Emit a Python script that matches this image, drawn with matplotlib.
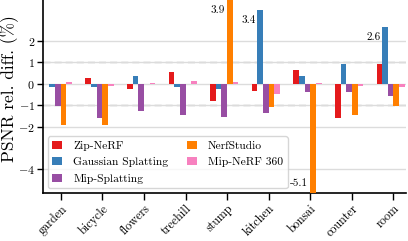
import matplotlib
matplotlib.use("Agg")
import matplotlib.pyplot as plt
import numpy as np

plt.rcParams["font.family"] = "cmr10"
plt.rcParams["mathtext.fontset"] = "cm"
plt.rcParams["axes.formatter.use_mathtext"] = True

scenes = ["garden", "bicycle", "flowers", "treehill", "stump",
          "kitchen", "bonsai", "counter", "room"]
methods = ["Zip-NeRF", "Gaussian Splatting", "Mip-Splatting",
           "NerfStudio", "Mip-NeRF 360"]
colors = ["#e41a1c", "#377eb8", "#984ea3", "#ff7f00", "#f781bf"]

zip_nerf = [-0.03, 0.27, -0.23, 0.53, -0.79, -0.33, 0.62, -1.62, 0.93]
gauss_splat = [-0.15, -0.15, 0.37, -0.15, -0.25, 3.42, 0.37, 0.93, 2.62]
mip_splat = [-1.03, -1.62, -1.29, -1.48, -1.54, -1.37, -0.39, -0.39, -0.59]
nerfstudio = [-1.92, -1.95, 0.0, 0.0, 3.9, -1.09, -5.1, -1.48, -1.06]
mip_nerf360 = [0.08, -0.10, 0.05, 0.12, 0.06, -0.48, 0.05, -0.12, -0.14]
series = [zip_nerf, gauss_splat, mip_splat, nerfstudio, mip_nerf360]

yticks = [-4, -2, -1, 0, 1, 2]

fig = plt.figure(figsize=(4.08, 2.41), dpi=100)
ax = fig.add_axes([0.106, 0.199, 0.889, 0.801])

x = np.arange(len(scenes))
w = 0.135
for i, (vals, name, c) in enumerate(zip(series, methods, colors)):
    pos = x + (i - 2.5) * w
    ax.bar(pos, vals, w, color=c, label=name, zorder=3)
    for px, v in zip(pos, vals):
        if abs(v) > 2.5:
            ax.annotate("%.1f" % v, (px - w / 2, v),
                        xytext=(-2, -5 if v > 0 else 5),
                        textcoords="offset pixels",
                        ha="right", va="top" if v > 0 else "bottom",
                        fontsize=8, zorder=6)

ax.set_ylim(-5.1, 3.9)
ax.set_xlim(-0.42, 8.3)
ax.set_yticks(yticks)
ax.set_yticklabels(["$%d$" % t if t >= 0 else "$-%d$" % -t for t in yticks])
ax.yaxis.grid(True, color="#dcdcdc", lw=1.0, zorder=0)
for yv in [1, -1]:
    ax.axhline(yv, color="#b5b5b5", lw=1.0, ls=(0, (5, 3)), zorder=1)

ax.set_xticks(x)
ax.set_xticklabels(scenes, rotation=45, ha="right", rotation_mode="anchor",
                   fontsize=8.7)
ax.tick_params(axis="y", labelsize=8.6, length=4, width=1.0, pad=2)
ax.tick_params(axis="x", length=5, width=1.0, pad=2)
ax.set_ylabel("PSNR rel. diff. (%)", fontsize=12.5)
ax.yaxis.set_label_coords(-0.068, 0.54)

for s in ["top", "right"]:
    ax.spines[s].set_visible(False)
for s in ["left", "bottom"]:
    ax.spines[s].set_linewidth(1.2)

leg = ax.legend(ncol=2, loc="lower left", fontsize=8.3, frameon=True,
                handlelength=0.87, handleheight=0.7, handletextpad=0.95,
                columnspacing=1.6, borderaxespad=0.4, labelspacing=0.55)
leg.get_frame().set_edgecolor("#cccccc")
leg.set_zorder(5)

fig.savefig("out.png", dpi=100)
